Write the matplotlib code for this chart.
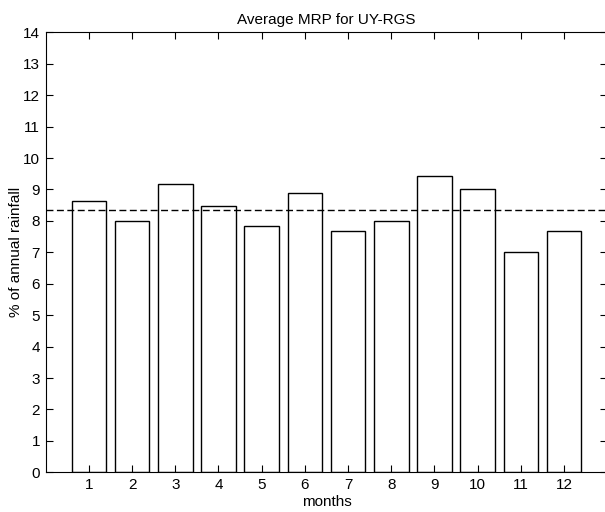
import matplotlib.pyplot as plt

plt.rcParams['font.family'] = ['Liberation Sans', 'DejaVu Sans']

months = [1, 2, 3, 4, 5, 6, 7, 8, 9, 10, 11, 12]
mrp = [8.63, 8.01, 9.16, 8.48, 7.84, 8.89, 7.68, 8.00, 9.42, 9.03, 7.02, 7.69]
mean_line = 100 / 12

fig = plt.figure(figsize=(6.05, 5.12), dpi=100)
# right border sits just past the image edge, as in the scan
ax = fig.add_axes([0.0755, 0.0775, 0.9283, 0.8594])

ax.bar(months, mrp, width=0.8, color='white', edgecolor='black', linewidth=1.0)
ax.axhline(mean_line, color='black', linestyle=(0, (5, 2.5)), linewidth=1.0)

ax.set_xlim(0, 13)
ax.set_ylim(0, 14)
ax.set_xticks(months)
ax.set_yticks(range(0, 15))
ax.tick_params(direction='in', top=True, right=True, labelsize=11, length=5, pad=4)
ax.set_xlabel('months', fontsize=11, labelpad=2)
ax.set_ylabel('% of annual rainfall', fontsize=11, labelpad=0)
ax.set_title('Average MRP for UY-RGS', fontsize=11, pad=6)

fig.savefig('out.png', dpi=100)
